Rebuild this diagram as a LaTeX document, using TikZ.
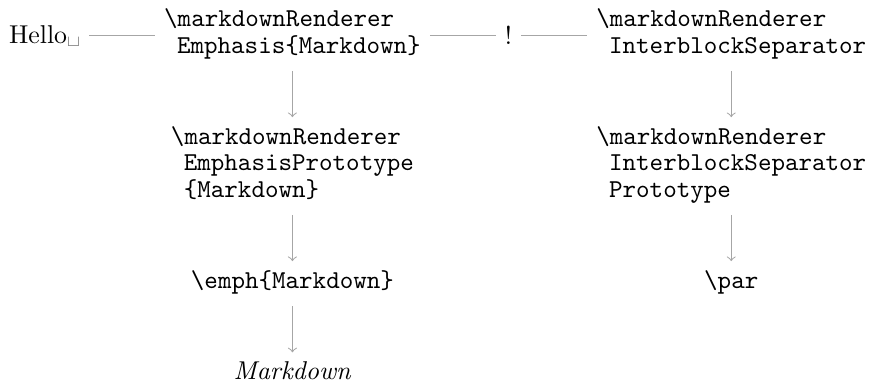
\documentclass[tikz,border=0pt]{standalone}
\usetikzlibrary{positioning}

\begin{document}
\begin{tikzpicture}[node distance=0.63cm and 0.9cm, >=to]
  \tikzstyle{code}=[font=\ttfamily\fontsize{10}{10.4}\selectfont, align=left, execute at begin node=\strut, execute at end node=\strut]
  \tikzstyle{link}=[draw=gray!70]
  % top row: the input split into pieces
  \node (hello) {Hello\textvisiblespace};
  \node[code, right=of hello] (emph) {\textbackslash markdownRenderer\\\hspace*{.5em}Emphasis\{Markdown\}};
  \node[right=of emph] (bang) {!};
  \node[code, right=of bang] (sep) {\textbackslash markdownRenderer\\\hspace*{.5em}InterblockSeparator};
  % left column
  \node[code, below=of emph] (emphproto) {\textbackslash markdownRenderer\\\hspace*{.5em}EmphasisPrototype\\\hspace*{.5em}\{Markdown\}};
  \node[code, below=of emphproto] (emphcmd) {\textbackslash emph\{Markdown\}};
  \node[below=of emphcmd] (result) {\emph{Markdown}};
  % right column
  \node[code, below=of sep] (sepproto) {\textbackslash markdownRenderer\\\hspace*{.5em}InterblockSeparator\\\hspace*{.5em}Prototype};
  \node[code, below=of sepproto] (par) {\textbackslash par};
  \draw[link] (hello) -- (emph);
  \draw[link] (emph) -- (bang);
  \draw[link] (bang) -- (sep);
  \draw[link, ->] (emph) -- (emphproto);
  \draw[link, ->] (emphproto) -- (emphcmd);
  \draw[link, ->] (emphcmd) -- (result);
  \draw[link, ->] (sep) -- (sepproto);
  \draw[link, ->] (sepproto) -- (par);
  % page frame
  \path (result.base) ++(0,-1pt) coordinate (bottom);
  \path (sep.east) ++(-1.3pt,0) coordinate (right);
  \pgfresetboundingbox
  \useasboundingbox (hello.west |- emph.north) rectangle (right |- bottom);
\end{tikzpicture}
\end{document}
